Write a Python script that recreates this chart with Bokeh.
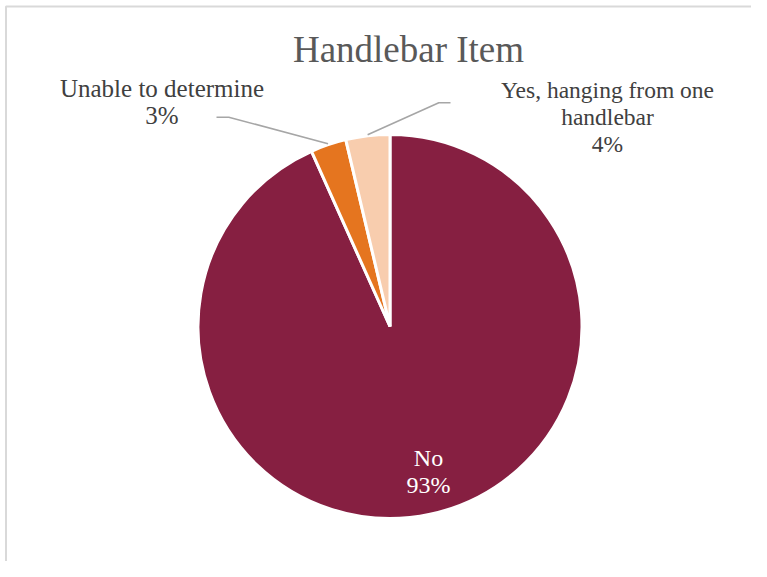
import math
from bokeh.plotting import figure
from bokeh.models import ColumnDataSource, Range1d
from bokeh.core.properties import value
from bokeh.embed import file_html
from bokeh.resources import INLINE

# ---------------- data ----------------
categories = ["No", "Unable to determine", "Yes, hanging from one handlebar"]
shares = [93.3, 3.0, 3.7]          # percent of items
colors = ["#861F41", "#E5751F", "#F8CDAE"]
title_text = "Handlebar Item"
# category names as wrapped in the chart's data labels
label_name_lines = [["No"], ["Unable to determine"], ["Yes, hanging from one", "handlebar"]]

# ---------------- layout ----------------
PAGE_H = 577
W, H = 751, 561


def py(y):
    """picture pixel y -> data y"""
    return PAGE_H - y


CX, CY, R = 389.5, py(326), 192
FONT = "Liberation Serif"
LINE_STEP = 27
# (centre x, first line y) of each data label, in picture pixels
label_pos = [(428, 457), (161.5, 88), (607, 89)]
label_colors = ["white", "#404040", "#404040"]
label_sizes = ["24px", "25px", "23.5px"]

p = figure(width=W, height=H,
           x_range=Range1d(0, W),
           y_range=Range1d(PAGE_H - H, PAGE_H),
           output_backend="svg", toolbar_location=None,
           x_axis_location=None, y_axis_location=None,
           min_border=0)
p.grid.visible = False
p.outline_line_color = None

# chart border (top and left visible; the rest is cropped)
p.line(x=[5.5, 5.5, 800], y=[py(600), py(6), py(6)],
       line_color="#d9d9d9", line_width=2)

# ---------------- wedges ----------------
total = sum(shares)
starts, ends, mids = [], [], []
cum = 0.0
for s in shares:
    a0 = math.pi / 2 - 2 * math.pi * cum / total
    cum += s
    a1 = math.pi / 2 - 2 * math.pi * cum / total
    starts.append(a0)
    ends.append(a1)
    mids.append((a0 + a1) / 2)

src = ColumnDataSource(dict(cat=categories, share=shares, start=starts,
                            end=ends, color=colors))
p.wedge(x=CX, y=CY, radius=R, start_angle="start", end_angle="end",
        direction="clock", fill_color="color", line_color="white",
        line_width=3, source=src)

# ---------------- title ----------------
p.text(x=[408], y=[py(49)], text=[title_text], text_color="#595959",
       text_font=value(FONT), text_font_size="37px",
       text_align="center", text_baseline="middle")

# ---------------- labels (one text glyph per line) ----------------
pct_labels = ["%d%%" % int(s / total * 100 + 0.5) for s in shares]
for i, lines in enumerate(label_name_lines):
    all_lines = lines + [pct_labels[i]]
    x0, y0 = label_pos[i]
    for k, line in enumerate(all_lines):
        p.text(x=[x0], y=[py(y0 + k * LINE_STEP)], text=[line],
               text_color=label_colors[i],
               text_font=value(FONT), text_font_size=label_sizes[i],
               text_align="center", text_baseline="middle")

# leader lines for the two small slices
elbows = {1: [(216, 116.7), (228.3, 116.7)], 2: [(450, 102.3), (438.3, 102.3)]}
xs, ys = [], []
for i, pts in elbows.items():
    ex = CX + (R + 1) * math.cos(mids[i])
    ey = CY + (R + 1) * math.sin(mids[i])
    xs.append([pts[0][0], pts[1][0], ex])
    ys.append([py(pts[0][1]), py(pts[1][1]), ey])
p.multi_line(xs=xs, ys=ys, line_color="#a6a6a6", line_width=1.6)

open("out.html", "w").write(file_html(p, INLINE))
